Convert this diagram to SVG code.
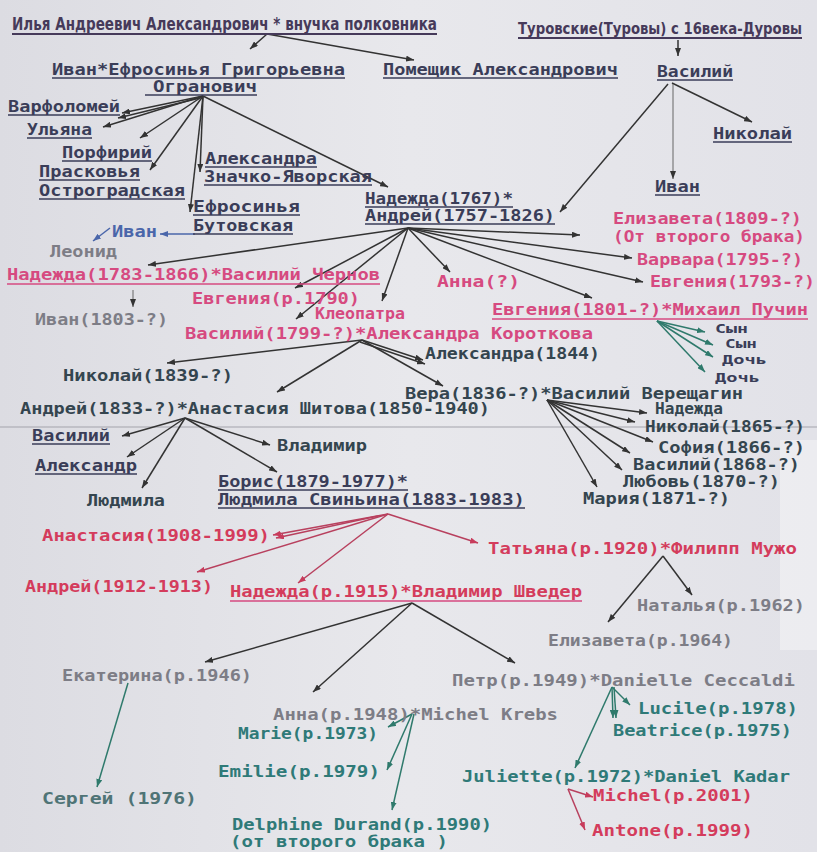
<svg xmlns="http://www.w3.org/2000/svg" width="817" height="852" viewBox="0 0 817 852">
<defs>
<style>
.t{font-family:"DejaVu Sans Mono","Liberation Mono",monospace;font-size:15px;font-weight:bold}
.s{font-size:13px}
.h{font-family:"DejaVu Sans Condensed","DejaVu Sans",sans-serif;font-stretch:condensed;font-size:17px;font-weight:bold;fill:#463a5a}
.h2{font-size:15.5px}
.dk{fill:#3a3d58}
.sl{fill:#34454f}
.pk{fill:#d64a80}
.rd{fill:#d43c5c}
.gy{fill:#7d7d86}
.tl{fill:#2f7a78}
.bl{fill:#4a66aa}
.u{stroke:#3a3d58;stroke-width:1.3}
.up{stroke:#d64a80;stroke-width:1.3}
.uh{stroke:#463a5a;stroke-width:2}
line.c{stroke:#333;stroke-width:1.5;marker-end:url(#ad)}
line.cg{stroke:#666;stroke-width:1;marker-end:url(#ad)}
line.cp{stroke:#b8405e;stroke-width:1.5;marker-end:url(#ap)}
line.ct{stroke:#2f7a6c;stroke-width:1.5;marker-end:url(#at)}
line.cb{stroke:#4a66aa;stroke-width:1.5;marker-end:url(#ab)}
</style>
<marker id="ad" viewBox="0 0 8 6" markerWidth="8" markerHeight="6" markerUnits="userSpaceOnUse" refX="8" refY="3" orient="auto"><path d="M0,0L8,3L0,6z" fill="#333"/></marker>
<marker id="ap" viewBox="0 0 8 6" markerWidth="8" markerHeight="6" markerUnits="userSpaceOnUse" refX="8" refY="3" orient="auto"><path d="M0,0L8,3L0,6z" fill="#c83c5c"/></marker>
<marker id="at" viewBox="0 0 8 6" markerWidth="8" markerHeight="6" markerUnits="userSpaceOnUse" refX="8" refY="3" orient="auto"><path d="M0,0L8,3L0,6z" fill="#2f7a6c"/></marker>
<marker id="ab" viewBox="0 0 8 6" markerWidth="8" markerHeight="6" markerUnits="userSpaceOnUse" refX="8" refY="3" orient="auto"><path d="M0,0L8,3L0,6z" fill="#4a66aa"/></marker>
<linearGradient id="bg" x1="0" y1="0" x2="1" y2="0">
<stop offset="0" stop-color="#dcdce2"/><stop offset="0.5" stop-color="#e8e8ec"/><stop offset="1" stop-color="#e2e2e8"/>
</linearGradient>
</defs>
<rect width="817" height="852" fill="url(#bg)"/>
<rect x="780" y="440" width="37" height="210" fill="#ffffff" opacity="0.35"/>
<line x1="0" y1="427" x2="817" y2="427" stroke="#a4a4ac" stroke-width="1.2"/>

<g id="connectors">
<line class="c" x1="267" y1="34" x2="250" y2="49"/>
<line class="c" x1="267" y1="34" x2="414" y2="60"/>
<line class="c" x1="678" y1="40" x2="678" y2="56"/>
<line class="c" x1="672" y1="83" x2="752" y2="122"/>
<line class="cg" x1="673" y1="84" x2="673" y2="179"/>
<line class="c" x1="668" y1="84" x2="560" y2="212"/>
<line class="c" x1="203" y1="96" x2="122" y2="113"/>
<line class="c" x1="200" y1="98" x2="118" y2="118"/>
<line class="c" x1="203" y1="96" x2="103" y2="127"/>
<line class="c" x1="203" y1="96" x2="140" y2="138"/>
<line class="c" x1="203" y1="96" x2="150" y2="170"/>
<line class="c" x1="203" y1="96" x2="200" y2="172"/>
<line class="c" x1="203" y1="96" x2="190" y2="212"/>
<line class="c" x1="203" y1="96" x2="388" y2="187"/>
<line class="cb" x1="195" y1="234" x2="160" y2="234"/>
<line class="cb" x1="110" y1="228" x2="93" y2="241"/>
<line class="c" x1="408" y1="228" x2="148" y2="265"/>
<line class="c" x1="408" y1="228" x2="295" y2="288"/>
<line class="c" x1="408" y1="228" x2="382" y2="301"/>
<line class="c" x1="408" y1="228" x2="296" y2="319"/>
<line class="c" x1="408" y1="228" x2="450" y2="272"/>
<line class="c" x1="408" y1="228" x2="592" y2="298"/>
<line class="c" x1="408" y1="228" x2="580" y2="235"/>
<line class="c" x1="408" y1="228" x2="632" y2="258"/>
<line class="c" x1="408" y1="228" x2="643" y2="282"/>
<line class="cg" x1="133" y1="290" x2="133" y2="307"/>
<line class="ct" x1="657" y1="321" x2="705" y2="332"/>
<line class="ct" x1="657" y1="321" x2="713" y2="345"/>
<line class="ct" x1="657" y1="321" x2="713" y2="357"/>
<line class="ct" x1="657" y1="321" x2="705" y2="372"/>
<line class="c" x1="362" y1="340" x2="167" y2="363"/>
<line class="c" x1="362" y1="340" x2="277" y2="392"/>
<line class="c" x1="362" y1="340" x2="423" y2="360"/>
<line class="c" x1="360" y1="342" x2="425" y2="364"/>
<line class="c" x1="362" y1="340" x2="443" y2="386"/>
<line class="c" x1="547" y1="400" x2="647" y2="413"/>
<line class="c" x1="547" y1="400" x2="635" y2="422"/>
<line class="c" x1="547" y1="400" x2="653" y2="442"/>
<line class="c" x1="547" y1="400" x2="630" y2="453"/>
<line class="c" x1="547" y1="400" x2="622" y2="470"/>
<line class="c" x1="547" y1="400" x2="597" y2="487"/>
<line class="c" x1="185" y1="418" x2="122" y2="436"/>
<line class="c" x1="185" y1="418" x2="127" y2="457"/>
<line class="c" x1="185" y1="418" x2="142" y2="488"/>
<line class="c" x1="185" y1="418" x2="270" y2="445"/>
<line class="c" x1="185" y1="418" x2="277" y2="472"/>
<line class="cp" x1="388" y1="514" x2="273" y2="535"/>
<line class="cp" x1="378" y1="516" x2="276" y2="538"/>
<line class="cp" x1="388" y1="514" x2="197" y2="572"/>
<line class="cp" x1="388" y1="514" x2="298" y2="583"/>
<line class="cp" x1="388" y1="514" x2="478" y2="543"/>
<line class="c" x1="663" y1="556" x2="692" y2="595"/>
<line class="c" x1="663" y1="556" x2="608" y2="622"/>
<line class="c" x1="412" y1="603" x2="205" y2="662"/>
<line class="c" x1="412" y1="603" x2="313" y2="692"/>
<line class="c" x1="412" y1="603" x2="515" y2="663"/>
<line class="ct" x1="128" y1="683" x2="97" y2="787"/>
<line class="ct" x1="412" y1="714" x2="388" y2="727"/>
<line class="ct" x1="412" y1="714" x2="387" y2="770"/>
<line class="ct" x1="414" y1="714" x2="392" y2="810"/>
<line class="ct" x1="612" y1="687" x2="630" y2="705"/>
<line class="ct" x1="612" y1="687" x2="613" y2="718"/>
<line class="ct" x1="614" y1="687" x2="616" y2="718"/>
<line class="ct" x1="612" y1="687" x2="575" y2="768"/>
<line class="cp" x1="568" y1="789" x2="593" y2="797"/>
<line class="cp" x1="568" y1="789" x2="585" y2="830"/>
</g>

<g id="title-left"><text class="h" x="12" y="30" textLength="425" lengthAdjust="spacingAndGlyphs">Илья Андреевич Александрович * внучка полковника</text><line class="uh" x1="12" y1="34" x2="437" y2="34"/></g>
<g id="title-right"><text class="h h2" x="518" y="34" textLength="284" lengthAdjust="spacingAndGlyphs">Туровские(Туровы) с 16века-Дуровы</text><line class="uh" x1="518" y1="38" x2="802" y2="38"/></g>

<g id="ivan-efrosinya"><text class="t dk" x="52" y="75" textLength="293" lengthAdjust="spacingAndGlyphs">Иван*Ефросинья Григорьевна</text><line class="u" x1="52" y1="78" x2="345" y2="78"/><text class="t dk" x="153" y="92" textLength="104" lengthAdjust="spacingAndGlyphs">Огранович</text><line class="u" x1="145" y1="95" x2="257" y2="95"/></g>
<g id="pomeshchik"><text class="t dk" x="383" y="75" textLength="235" lengthAdjust="spacingAndGlyphs">Помещик Александрович</text><line class="u" x1="383" y1="78" x2="618" y2="78"/></g>
<g id="vasiliy-t"><text class="t dk" x="657" y="77" textLength="76" lengthAdjust="spacingAndGlyphs">Василий</text><line class="u" x1="657" y1="80" x2="733" y2="80"/></g>
<g id="nikolay-t"><text class="t dk" x="713" y="139" textLength="79" lengthAdjust="spacingAndGlyphs">Николай</text><line class="u" x1="713" y1="142" x2="792" y2="142"/></g>
<g id="ivan-t"><text class="t dk" x="655" y="192" textLength="45" lengthAdjust="spacingAndGlyphs">Иван</text><line class="u" x1="655" y1="195" x2="700" y2="195"/></g>

<g id="varfolomey"><text class="t dk" x="8" y="112" textLength="112" lengthAdjust="spacingAndGlyphs">Варфоломей</text><line class="u" x1="8" y1="115" x2="120" y2="115"/></g>
<g id="ulyana"><text class="t dk" x="27" y="135" textLength="65" lengthAdjust="spacingAndGlyphs">Ульяна</text><line class="u" x1="27" y1="138" x2="92" y2="138"/></g>
<g id="porfiriy"><text class="t dk" x="62" y="158" textLength="90" lengthAdjust="spacingAndGlyphs">Порфирий</text><line class="u" x1="62" y1="161" x2="152" y2="161"/></g>
<g id="praskovya"><text class="t dk" x="39" y="177" textLength="101" lengthAdjust="spacingAndGlyphs">Прасковья</text><line class="u" x1="39" y1="180" x2="140" y2="180"/><text class="t dk" x="39" y="196" textLength="146" lengthAdjust="spacingAndGlyphs">Остроградская</text><line class="u" x1="39" y1="199" x2="185" y2="199"/></g>
<g id="aleksandra-z"><text class="t dk" x="205" y="164" textLength="112" lengthAdjust="spacingAndGlyphs">Александра</text><line class="u" x1="205" y1="167" x2="317" y2="167"/><text class="t dk" x="204" y="182" textLength="168" lengthAdjust="spacingAndGlyphs">Значко-Яворская</text><line class="u" x1="204" y1="185" x2="372" y2="185"/></g>
<g id="efrosinya-b"><text class="t dk" x="193" y="212" textLength="107" lengthAdjust="spacingAndGlyphs">Ефросинья</text><line class="u" x1="193" y1="215" x2="300" y2="215"/><text class="t dk" x="193" y="231" textLength="100" lengthAdjust="spacingAndGlyphs">Бутовская</text><line class="u" x1="193" y1="234" x2="293" y2="234"/></g>
<g id="ivan-b"><text class="t bl" x="112" y="237" textLength="45" lengthAdjust="spacingAndGlyphs">Иван</text></g>
<g id="leonid"><text class="t gy" x="50" y="257" textLength="67" lengthAdjust="spacingAndGlyphs">Леонид</text></g>

<g id="nadezhda-andrey"><text class="t dk" x="365" y="204" textLength="148" lengthAdjust="spacingAndGlyphs">Надежда(1767)*</text><line class="u" x1="365" y1="207" x2="513" y2="207"/><text class="t dk" x="365" y="221" textLength="190" lengthAdjust="spacingAndGlyphs">Андрей(1757-1826)</text><line class="u" x1="365" y1="224" x2="555" y2="224"/></g>

<g id="elizaveta-1809"><text class="t pk" x="613" y="224" textLength="189" lengthAdjust="spacingAndGlyphs">Елизавета(1809-?)</text><text class="t pk" x="613" y="242" textLength="192" lengthAdjust="spacingAndGlyphs">(От второго брака)</text></g>
<g id="varvara"><text class="t pk" x="637" y="265" textLength="166" lengthAdjust="spacingAndGlyphs">Варвара(1795-?)</text></g>
<g id="evgeniya-1793"><text class="t pk" x="650" y="287" textLength="165" lengthAdjust="spacingAndGlyphs">Евгения(1793-?)</text></g>
<g id="anna-q"><text class="t pk" x="437" y="287" textLength="83" lengthAdjust="spacingAndGlyphs">Анна(?)</text></g>
<g id="nadezhda-1783"><text class="t pk" x="7" y="280" textLength="373" lengthAdjust="spacingAndGlyphs">Надежда(1783-1866)*Василий Чернов</text><line class="up" x1="7" y1="284" x2="380" y2="284"/></g>
<g id="evgeniya-1790"><text class="t pk" x="192" y="304" textLength="168" lengthAdjust="spacingAndGlyphs">Евгения(р.1790)</text></g>
<g id="kleopatra"><text class="t pk" x="315" y="319" textLength="90" lengthAdjust="spacingAndGlyphs">Клеопатра</text></g>
<g id="ivan-1803"><text class="t gy" x="35" y="325" textLength="133" lengthAdjust="spacingAndGlyphs">Иван(1803-?)</text></g>
<g id="evgeniya-1801"><text class="t pk" x="492" y="315" textLength="316" lengthAdjust="spacingAndGlyphs">Евгения(1801-?)*Михаил Пучин</text><line class="up" x1="492" y1="319" x2="808" y2="319"/></g>
<g id="vasiliy-1799"><text class="t pk" x="185" y="339" textLength="408" lengthAdjust="spacingAndGlyphs">Василий(1799-?)*Александра Короткова</text></g>
<g id="syn1"><text class="t s dk" x="715" y="333" textLength="33" lengthAdjust="spacingAndGlyphs">Сын</text></g>
<g id="syn2"><text class="t s dk" x="725" y="348" textLength="32" lengthAdjust="spacingAndGlyphs">Сын</text></g>
<g id="doch1"><text class="t s dk" x="722" y="364" textLength="45" lengthAdjust="spacingAndGlyphs">Дочь</text></g>
<g id="doch2"><text class="t s dk" x="715" y="382" textLength="45" lengthAdjust="spacingAndGlyphs">Дочь</text></g>

<g id="aleksandra-1844"><text class="t sl" x="425" y="359" textLength="175" lengthAdjust="spacingAndGlyphs">Александра(1844)</text></g>
<g id="nikolay-1839"><text class="t sl" x="63" y="381" textLength="170" lengthAdjust="spacingAndGlyphs">Николай(1839-?)</text></g>
<g id="vera-1836"><text class="t sl" x="405" y="399" textLength="338" lengthAdjust="spacingAndGlyphs">Вера(1836-?)*Василий Верещагин</text></g>
<g id="andrey-1833"><text class="t sl" x="20" y="414" textLength="470" lengthAdjust="spacingAndGlyphs">Андрей(1833-?)*Анастасия Шитова(1850-1940)</text></g>

<g id="nadezhda-v"><text class="t sl" x="655" y="414" textLength="68" lengthAdjust="spacingAndGlyphs">Надежда</text></g>
<g id="nikolay-1865"><text class="t sl" x="645" y="432" textLength="160" lengthAdjust="spacingAndGlyphs">Николай(1865-?)</text></g>
<g id="sofiya-1866"><text class="t sl" x="658" y="453" textLength="147" lengthAdjust="spacingAndGlyphs">София(1866-?)</text></g>
<g id="vasiliy-1868"><text class="t sl" x="633" y="470" textLength="167" lengthAdjust="spacingAndGlyphs">Василий(1868-?)</text></g>
<g id="lyubov-1870"><text class="t sl" x="623" y="487" textLength="157" lengthAdjust="spacingAndGlyphs">Любовь(1870-?)</text></g>
<g id="mariya-1871"><text class="t sl" x="583" y="504" textLength="147" lengthAdjust="spacingAndGlyphs">Мария(1871-?)</text></g>

<g id="vasiliy-s"><text class="t dk" x="32" y="441" textLength="78" lengthAdjust="spacingAndGlyphs">Василий</text><line class="u" x1="32" y1="444" x2="110" y2="444"/></g>
<g id="aleksandr"><text class="t dk" x="35" y="471" textLength="102" lengthAdjust="spacingAndGlyphs">Александр</text><line class="u" x1="35" y1="474" x2="137" y2="474"/></g>
<g id="lyudmila"><text class="t sl" x="87" y="506" textLength="78" lengthAdjust="spacingAndGlyphs">Людмила</text></g>
<g id="vladimir"><text class="t sl" x="277" y="451" textLength="90" lengthAdjust="spacingAndGlyphs">Владимир</text></g>
<g id="boris"><text class="t dk" x="218" y="487" textLength="190" lengthAdjust="spacingAndGlyphs">Борис(1879-1977)*</text><line class="u" x1="218" y1="490" x2="408" y2="490"/><text class="t dk" x="218" y="505" textLength="307" lengthAdjust="spacingAndGlyphs">Людмила Свиньина(1883-1983)</text><line class="u" x1="218" y1="508" x2="525" y2="508"/></g>

<g id="anastasiya-1908"><text class="t rd" x="42" y="541" textLength="228" lengthAdjust="spacingAndGlyphs">Анастасия(1908-1999)</text></g>
<g id="andrey-1912"><text class="t rd" x="25" y="592" textLength="188" lengthAdjust="spacingAndGlyphs">Андрей(1912-1913)</text></g>
<g id="nadezhda-1915"><text class="t rd" x="230" y="597" textLength="352" lengthAdjust="spacingAndGlyphs">Надежда(р.1915)*Владимир Шведер</text><line class="up" x1="230" y1="601" x2="582" y2="601"/></g>
<g id="tatyana-1920"><text class="t rd" x="488" y="554" textLength="309" lengthAdjust="spacingAndGlyphs">Татьяна(р.1920)*Филипп Мужо</text></g>
<g id="natalya-1962"><text class="t gy" x="637" y="611" textLength="168" lengthAdjust="spacingAndGlyphs">Наталья(р.1962)</text></g>
<g id="elizaveta-1964"><text class="t gy" x="548" y="646" textLength="185" lengthAdjust="spacingAndGlyphs">Елизавета(р.1964)</text></g>

<g id="ekaterina-1946"><text class="t gy" x="62" y="681" textLength="190" lengthAdjust="spacingAndGlyphs">Екатерина(р.1946)</text></g>
<g id="petr-1949"><text class="t gy" x="452" y="686" textLength="343" lengthAdjust="spacingAndGlyphs">Петр(р.1949)*Danielle Ceccaldi</text></g>
<g id="anna-1948"><text class="t gy" x="273" y="720" textLength="285" lengthAdjust="spacingAndGlyphs">Анна(р.1948)*Michel Krebs</text></g>
<g id="lucile"><text class="t tl" x="638" y="714" textLength="160" lengthAdjust="spacingAndGlyphs">Lucile(р.1978)</text></g>
<g id="beatrice"><text class="t tl" x="613" y="736" textLength="179" lengthAdjust="spacingAndGlyphs">Beatrice(р.1975)</text></g>
<g id="marie"><text class="t tl" x="238" y="739" textLength="140" lengthAdjust="spacingAndGlyphs">Marie(р.1973)</text></g>
<g id="emilie"><text class="t tl" x="218" y="777" textLength="162" lengthAdjust="spacingAndGlyphs">Emilie(р.1979)</text></g>
<g id="juliette"><text class="t tl" x="462" y="782" textLength="328" lengthAdjust="spacingAndGlyphs">Juliette(р.1972)*Daniel Kadar</text></g>
<g id="michel"><text class="t rd" x="593" y="801" textLength="160" lengthAdjust="spacingAndGlyphs">Michel(р.2001)</text></g>
<g id="sergey"><text class="t tl" x="42" y="804" textLength="155" lengthAdjust="spacingAndGlyphs" style="fill:#4f7476">Сергей (1976)</text></g>
<g id="delphine"><text class="t tl" x="232" y="830" textLength="260" lengthAdjust="spacingAndGlyphs">Delphine Durand(р.1990)</text><text class="t tl" x="230" y="847" textLength="218" lengthAdjust="spacingAndGlyphs">(от второго брака )</text></g>
<g id="antone"><text class="t rd" x="592" y="836" textLength="161" lengthAdjust="spacingAndGlyphs">Antone(р.1999)</text></g>
</svg>
